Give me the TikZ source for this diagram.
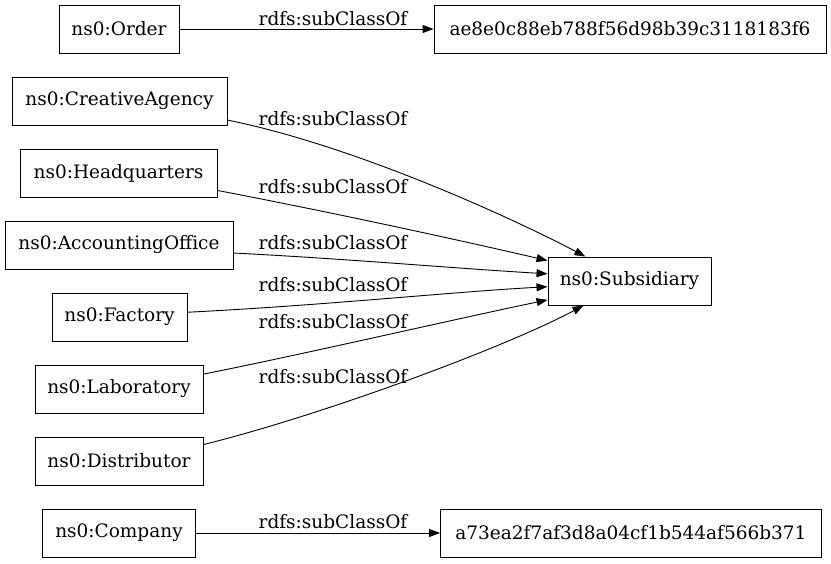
\documentclass[tikz,border=0pt]{standalone}
\usepackage{fontspec}
\setmainfont{DejaVu Serif}
\usetikzlibrary{arrows.meta}
\begin{document}
\begin{tikzpicture}[x=1pt,y=-1pt,
  box/.style={draw, line width=0.9pt, minimum height=48pt, inner sep=0pt, font=\fontsize{18.5}{22}\selectfont},
  lbl/.style={inner sep=0pt, font=\fontsize{18.5}{22}\selectfont},
  edge/.style={-{Triangle[length=11pt,width=8pt]}, line width=0.9pt}]
\useasboundingbox (0,0) rectangle (831,563);
\node[box, minimum width=120pt] (order) at (119,29) {ns0:Order};
\node[box, minimum width=392pt] (ae) at (630,29) {ae8e0c88eb788f56d98b39c3118183f6};
\node[box, minimum width=215pt] (ca) at (119.5,101) {ns0:CreativeAgency};
\node[box, minimum width=197pt] (hq) at (118.5,173) {ns0:Headquarters};
\node[box, minimum width=228pt] (ao) at (119,245) {ns0:AccountingOffice};
\node[box, minimum width=135pt] (fa) at (119.5,317) {ns0:Factory};
\node[box, minimum width=168pt] (lab) at (119,389) {ns0:Laboratory};
\node[box, minimum width=168pt] (dist) at (119,461) {ns0:Distributor};
\node[box, minimum width=153pt] (co) at (119,533) {ns0:Company};
\node[box, minimum width=381pt] (a7) at (631,533) {a73ea2f7af3d8a04cf1b544af566b371};
\node[box, minimum width=163pt] (sub) at (629.5,281) {ns0:Subsidiary};

\draw[edge] (order) -- (ae) node[lbl] at (333,19) {rdfs:subClassOf};
\draw[edge] (ca.-10.5) .. controls (360,147) and (520,222) .. (sub.151.7) node[lbl] at (333,119) {rdfs:subClassOf};
\draw[edge] (hq.-10.9) .. controls (330,212) and (450,238) .. (sub.166.2) node[lbl] at (333,187) {rdfs:subClassOf};
\draw[edge] (ao.-4) .. controls (350,259) and (450,268) .. (sub.175.8) node[lbl] at (333,243) {rdfs:subClassOf};
\draw[edge] (fa.4.2) .. controls (330,305) and (450,292) .. (sub.184.2) node[lbl] at (333,285) {rdfs:subClassOf};
\draw[edge] (lab.10.8) .. controls (300,355) and (460,318) .. (sub.193.1) node[lbl] at (333,322) {rdfs:subClassOf};
\draw[edge] (dist.11.4) .. controls (330,413) and (510,345) .. (sub.208.3) node[lbl] at (333,377) {rdfs:subClassOf};
\draw[edge] (co) -- (a7) node[lbl] at (333,522) {rdfs:subClassOf};
\end{tikzpicture}
\end{document}
